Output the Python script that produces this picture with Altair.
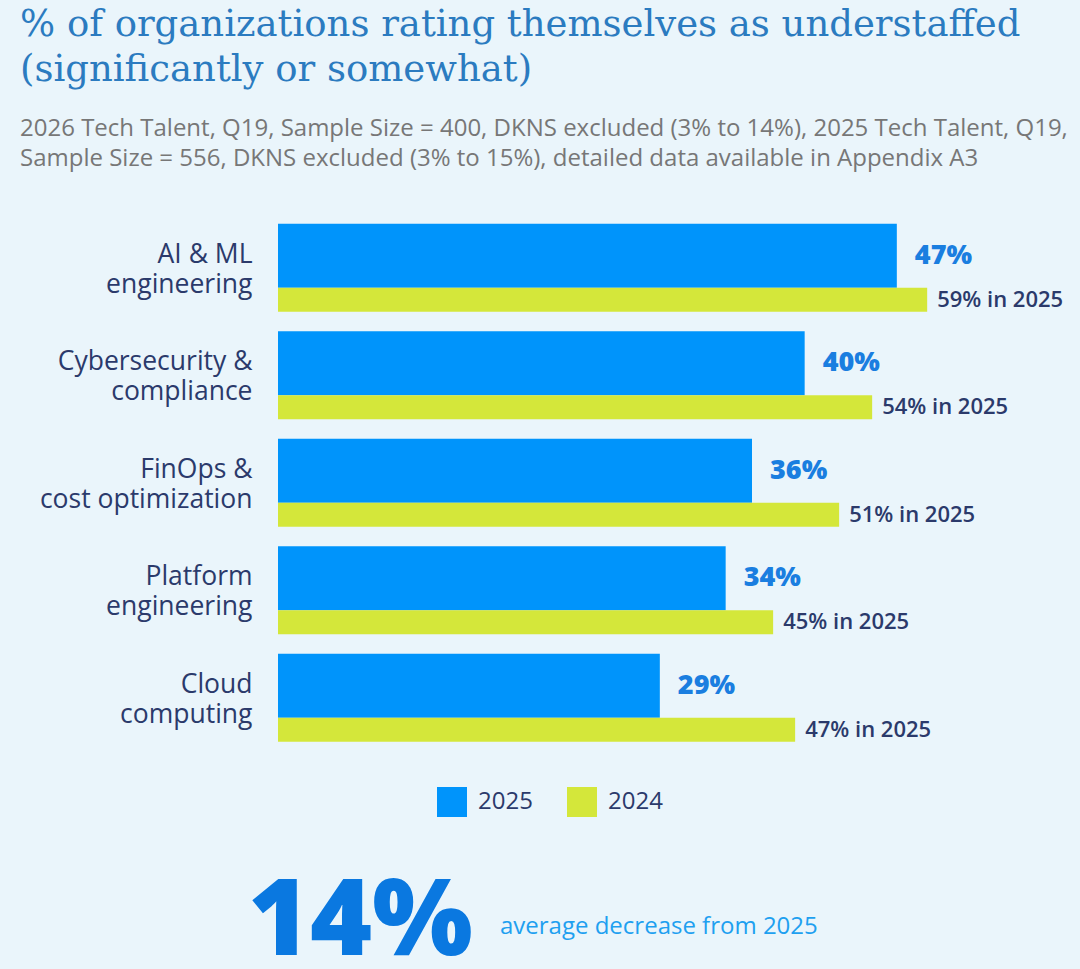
import json
import altair as alt
import pandas as pd

# ---------------- data ----------------
categories = ["AI & ML engineering", "Cybersecurity & compliance",
              "FinOps & cost optimization", "Platform engineering", "Cloud computing"]
label_lines = [["AI & ML", "engineering"], ["Cybersecurity &", "compliance"],
               ["FinOps &", "cost optimization"], ["Platform", "engineering"],
               ["Cloud", "computing"]]
values_2026 = [47, 40, 36, 34, 29]   # blue bars (legend "2025")
values_2025 = [59, 54, 51, 45, 47]   # green bars (legend "2024")
legend_names = ["2025", "2024"]
big_number = "14%"
big_caption = "average decrease from 2025"

title_lines = ["% of organizations rating themselves as understaffed",
               "(significantly or somewhat)"]
subtitle_lines = ["2026 Tech Talent, Q19, Sample Size = 400, DKNS excluded (3% to 14%), 2025 Tech Talent, Q19,",
                  "Sample Size = 556, DKNS excluded (3% to 15%), detailed data available in Appendix A3"]

# ---------------- styles ----------------
BG = "#eaf5fb"
BLUE = "#0094fb"
GREEN = "#d4e73a"
NAVY = "#2b3a6b"
LBLUE = "#1a7ee0"
FONT = "Open Sans"

blue_df = pd.DataFrame({"category": categories, "value": values_2026,
                        "series": legend_names[0],
                        "label": [f"{v}%" for v in values_2026]})
green_df = pd.DataFrame({"category": categories, "value": values_2025,
                         "series": legend_names[1],
                         "label": [f"{v}% in 2025" for v in values_2025]})

label_map = {c: l for c, l in zip(categories, label_lines)}
label_expr = json.dumps(label_map) + "[datum.label]"

y_enc = alt.Y("category:N", sort=categories,
              scale=alt.Scale(paddingInner=0, paddingOuter=0),
              axis=alt.Axis(title=None, domain=False, ticks=False, tickSize=0,
                            labelExpr=label_expr, labelFont=FONT, labelFontSize=26.5,
                            labelFontWeight=500,
                            labelColor=NAVY, labelLineHeight=30, labelPadding=26,
                            labelOffset=-13,
                            labelLimit=400, labelAlign="right", labelBaseline="middle"))

color_enc = alt.Color("series:N",
                      scale=alt.Scale(domain=legend_names, range=[BLUE, GREEN]),
                      legend=alt.Legend(orient="none", legendX=159, legendY=573,
                                        direction="horizontal", title=None,
                                        symbolType="square", symbolSize=900,
                                        symbolStrokeWidth=0, symbolOpacity=1,
                                        labelFont=FONT, labelFontSize=24,
                                        labelColor=NAVY, labelOffset=11,
                                        columnPadding=34))

x_blue = alt.X("value:Q", scale=alt.Scale(domain=[0, 60], nice=False), axis=None)
x_green = alt.X("value:Q", scale=alt.Scale(domain=[0, 71.8], nice=False), axis=None)

blue_bar = alt.Chart(blue_df).mark_bar(height=64, yOffset=-12).encode(
    x=x_blue, y=y_enc, color=color_enc)
blue_txt = alt.Chart(blue_df).mark_text(
    align="left", baseline="middle", dx=18, yOffset=-12, font=FONT,
    fontSize=27, fontWeight=800, color=LBLUE).encode(x=x_blue, y=y_enc, text="label:N")

green_bar = alt.Chart(green_df).mark_bar(height=24, yOffset=32).encode(
    x=x_green, y=y_enc, color=color_enc)
green_txt = alt.Chart(green_df).mark_text(
    align="left", baseline="middle", dx=10, yOffset=32, font=FONT,
    fontSize=22, fontWeight=600, color=NAVY).encode(x=x_green, y=y_enc, text="label:N")

foot_df = pd.DataFrame({"big": [big_number], "cap": [big_caption]})
big_txt = alt.Chart(foot_df).mark_text(
    align="left", baseline="alphabetic", font=FONT, fontSize=106,
    fontWeight=800, color="#0a78e0").encode(
    x=alt.value(-30), y=alt.value(741), text="big:N")
cap_txt = alt.Chart(foot_df).mark_text(
    align="left", baseline="alphabetic", font=FONT, fontSize=24,
    color="#1ea0f0").encode(x=alt.value(222), y=alt.value(720), text="cap:N")

chart = alt.layer(
    alt.layer(blue_bar, blue_txt),
    alt.layer(green_bar, green_txt),
    big_txt, cap_txt,
).resolve_scale(x="independent").properties(
    width=790, height=537.5,
    autosize=alt.AutoSizeParams(type="none"),
    padding={"left": 278, "top": 214, "right": 12, "bottom": 217},
    title=alt.TitleParams(
        text=title_lines, subtitle=subtitle_lines, anchor="start", frame="group",
        orient="top", dx=-258, offset=42,
        font="'Roboto Slab', 'DejaVu Serif', serif", fontSize=37, fontWeight=400,
        color="#2b7bc0", lineHeight=45,
        subtitleFont=FONT, subtitleFontSize=24, subtitleColor="#777777",
        subtitleLineHeight=30, subtitlePadding=28),
).configure(background=BG).configure_view(stroke=None)

chart.save("out.html", embed_options={"renderer": "svg", "actions": False})
